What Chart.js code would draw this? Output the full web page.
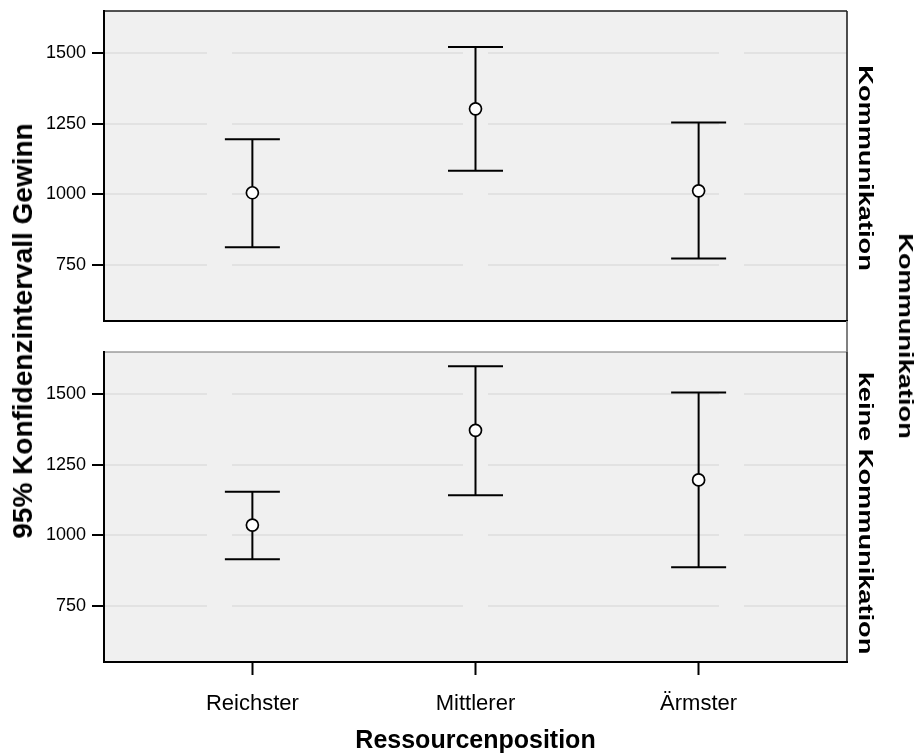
<!DOCTYPE html>
<html lang="de">
<head>
<meta charset="utf-8">
<title>95% Konfidenzintervall Gewinn nach Ressourcenposition</title>
<script src="https://cdn.jsdelivr.net/npm/chart.js@4.4.1/dist/chart.umd.min.js"></script>
<style>
  body { margin: 0; background: #fff; }
  #wrap {
    position: relative;
    width: 916px;
    height: 756px;
    font-family: "Liberation Sans", Arial, sans-serif;
    color: #000;
  }
  #wrap canvas { position: absolute; left: 0; }
  #panelTop { top: 0; }
  #panelBottom { top: 336px; }
  .label {
    position: absolute;
    font-weight: bold;
    white-space: nowrap;
    line-height: 1;
  }
  .yTitle {
    left: 23px; top: 331px;
    font-size: 28px;
    transform: translate(-50%, -50%) rotate(-90deg);
  }
  .strip {
    font-size: 20px;
    transform: translate(-50%, -50%) rotate(90deg) scaleX(1.36);
  }
  .connector {
    position: absolute;
    left: 846px; top: 321px;
    width: 1.5px; height: 31px;
    background: #808080;
  }
</style>
</head>
<body>
<div id="wrap">
  <canvas id="panelTop" width="916" height="336"></canvas>
  <canvas id="panelBottom" width="916" height="420"></canvas>
  <div class="connector"></div>
  <div class="label yTitle">95% Konfidenzintervall Gewinn</div>
  <div class="label strip" style="left:866px; top:168px;">Kommunikation</div>
  <div class="label strip" style="left:866px; top:513px;">keine Kommunikation</div>
  <div class="label strip" style="left:906px; top:336px;">Kommunikation</div>
</div>
<script>
// Ressourcenposition categories and y ticks
const categories = ['Reichster', 'Mittlerer', 'Ärmster'];
const yTicks = [750, 1000, 1250, 1500];

// Gewinn, 95% CI - Kommunikation
const commLower = [812, 1083, 772];
const commMean = [1005, 1303, 1012];
const commUpper = [1195, 1522, 1254];

// Gewinn, 95% CI - keine Kommunikation
const noCommLower = [915, 1142, 886];
const noCommMean = [1036, 1372, 1196];
const noCommUpper = [1154, 1599, 1506];

const FONT = '"Liberation Sans", Arial, sans-serif';

// grey panel background + frame around the plot area
const panelFrame = {
    id: 'panelFrame',
    beforeDraw(chart) {
        const { ctx, chartArea: a } = chart;
        ctx.save();
        ctx.fillStyle = '#f0f0f0';
        ctx.fillRect(a.left, a.top, a.width, a.height);
        ctx.restore();
    },
    afterDraw(chart, args, opts) {
        const { ctx, chartArea: a } = chart;
        const line = (x1, y1, x2, y2, color, width) => {
            ctx.beginPath();
            ctx.strokeStyle = color;
            ctx.lineWidth = width;
            ctx.moveTo(x1, y1);
            ctx.lineTo(x2, y2);
            ctx.stroke();
        };
        ctx.save();
        line(a.left, a.top, a.right, a.top, opts.topColor, opts.topWidth);
        line(a.right, a.top, a.right, a.bottom, '#222', 1.6);
        line(a.left - 1, a.bottom, a.right + 1, a.bottom, '#000', 2);
        line(a.left, a.top - 1, a.left, a.bottom + 1, '#000', 2);
        ctx.restore();
    }
};

// keep the plot area fixed: no extra padding for labels hanging over the ends
function noOverhang(scale) {
    scale.paddingTop = 0;
    scale.paddingBottom = 0;
    scale.paddingLeft = 0;
    scale.paddingRight = 0;
}

function buildPanel(canvasId, lower, mean, upper, showX, frame) {
    const whiskers = categories.map((c, i) => ({
        label: c,
        data: [{ x: i, y: lower[i] }, { x: i, y: upper[i] }],
        showLine: true,
        borderColor: '#000',
        borderWidth: 2,
        pointRadius: 0,
        order: 3
    }));

    const caps = {
        label: 'caps',
        data: lower.map((v, i) => ({ x: i, y: v })).concat(upper.map((v, i) => ({ x: i, y: v }))),
        pointStyle: 'line',
        pointRadius: 27.5,
        pointBorderWidth: 2,
        pointBorderColor: '#000',
        order: 2
    };

    const means = {
        label: 'Mittelwert',
        data: mean.map((v, i) => ({ x: i, y: v })),
        pointStyle: 'circle',
        pointRadius: 6,
        pointBackgroundColor: '#fff',
        pointBorderColor: '#000',
        pointBorderWidth: 1.7,
        order: 1
    };

    return new Chart(document.getElementById(canvasId), {
        type: 'scatter',
        data: { datasets: [...whiskers, caps, means] },
        options: {
            responsive: false,
            animation: false,
            layout: {
                autoPadding: false,
                padding: showX
                    ? { top: 16, right: 69, bottom: 0, left: 0 }
                    : { top: 11, right: 69, bottom: 15, left: 0 }
            },
            plugins: {
                legend: { display: false },
                tooltip: { enabled: false },
                panelFrame: frame
            },
            scales: {
                x: {
                    type: 'linear',
                    min: -0.665,
                    max: 2.665,
                    display: showX,
                    afterBuildTicks: s => { s.ticks = categories.map((c, i) => ({ value: i })); },
                    afterFit: s => { s.height = showX ? 94 : 0; noOverhang(s); },
                    ticks: {
                        callback: v => categories[v],
                        font: { family: FONT, size: 22 },
                        color: '#000',
                        padding: 16,
                        maxRotation: 0,
                        autoSkip: false
                    },
                    grid: {
                        drawOnChartArea: false,
                        tickLength: 13,
                        tickWidth: 2,
                        tickColor: '#000'
                    },
                    border: { display: false },
                    title: {
                        display: true,
                        text: 'Ressourcenposition',
                        font: { family: FONT, size: 25, weight: 'bold' },
                        color: '#000',
                        padding: { top: 0, bottom: 0 }
                    }
                },
                y: {
                    min: 550,
                    max: 1650,
                    afterBuildTicks: s => { s.ticks = yTicks.map(v => ({ value: v })); },
                    afterFit: s => { s.width = 104; noOverhang(s); },
                    ticks: {
                        callback: v => String(v),
                        font: { family: FONT, size: 18 },
                        color: '#000',
                        padding: 6
                    },
                    grid: {
                        color: '#e2e2e2',
                        lineWidth: 2,
                        tickLength: 12,
                        tickWidth: 2,
                        tickColor: '#000'
                    },
                    border: { display: false, dash: [231, 25], dashOffset: 128 }
                }
            }
        },
        plugins: [panelFrame]
    });
}

buildPanel('panelTop', commLower, commMean, commUpper, false, { topColor: '#1a1a1a', topWidth: 1.6 });
buildPanel('panelBottom', noCommLower, noCommMean, noCommUpper, true, { topColor: '#6e6e6e', topWidth: 1.2 });
</script>
</body>
</html>
